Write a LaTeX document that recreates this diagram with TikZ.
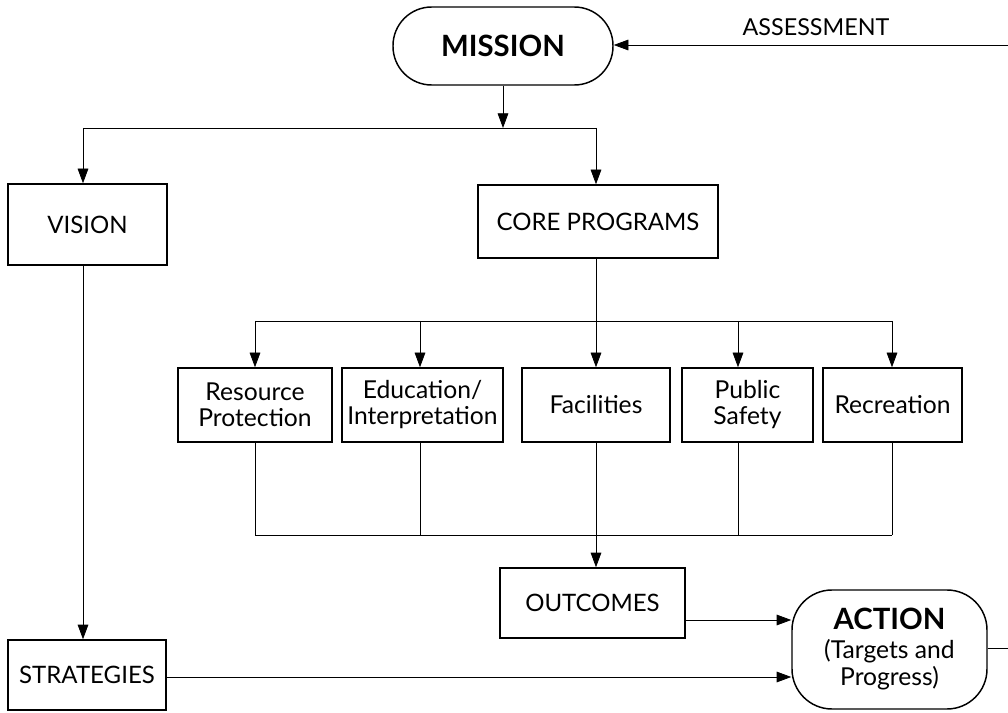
\documentclass[tikz,border=0pt]{standalone}
\usepackage{fontspec}
\setmainfont{Lato}
\usetikzlibrary{arrows.meta,calc}
\begin{document}
\begin{tikzpicture}[x=0.75pt,y=-0.75pt,
  box/.style={draw,line width=1.1pt,align=center,inner sep=0pt,font=\fontsize{18}{21}\selectfont},
  prog/.style={box,minimum height=55.5pt,font=\fontsize{18.5}{19.5}\selectfont},
  pill/.style={box,rounded corners=29pt},
  conn/.style={line width=0.6pt},
  arr/.style={conn,-{Triangle[length=11pt,width=8pt]}},
  lbl/.style={inner sep=0pt,font=\fontsize{17.5}{20}\selectfont}
]
\useasboundingbox (0,0) rectangle (1008,713);

% nodes
\node[pill,minimum width=165pt,minimum height=58.5pt,font=\bfseries\fontsize{22}{24}\selectfont] (mission) at (503,46) {MISSION};
\node[box,minimum width=119.25pt,minimum height=60.75pt] (vision) at (87.5,224.5) {VISION};
\node[box,minimum width=180pt,minimum height=54.75pt] (core) at (598,221.5) {CORE PROGRAMS};
\node[prog,minimum width=115.5pt] (res) at (255,405) {Resource\\Protection};
\node[prog,minimum width=120.75pt] (edu) at (422.5,405) {Education/\\Interpretation};
\node[prog,minimum width=111pt] (fac) at (596,405) {Facilities};
\node[prog,minimum width=98.25pt] (pub) at (747.5,405) {Public\\Safety};
\node[prog,minimum width=104.25pt] (rec) at (892.5,405) {Recreation};
\node[box,minimum width=138.75pt,minimum height=52.5pt] (outcomes) at (592.5,603) {OUTCOMES};
\node[box,minimum width=118.5pt,minimum height=52.5pt] (strategies) at (87,675) {STRATEGIES};
\node[pill,rounded corners=30pt,minimum width=146.25pt,minimum height=89.25pt,font=\fontsize{18.5}{20.5}\selectfont] (action) at (889.5,649.5)
  {{\bfseries\fontsize{22}{23}\selectfont ACTION}\\[1pt](Targets and\\Progress)};
\node[lbl] (assess) at (816,27) {ASSESSMENT};

% coordinates
\coordinate (e2) at (1008,45);
\coordinate (e1) at (1008,648);
\coordinate (j1) at (503,128);
\coordinate (jl) at (83,128);
\coordinate (jr) at (596,128);
\coordinate (t0) at (596,321);
\coordinate (tl) at (255,321);
\coordinate (tr) at (892,321);
\coordinate (b0) at (596,535);
\coordinate (bl) at (255,535);
\coordinate (br) at (892,535);

% assessment loop
\draw[arr] (e2) -- (mission.east |- e2);
\draw[conn] (action.east |- e1) -- (e1);

% mission to vision/core
\draw[arr] (mission.south) -- (j1);
\draw[conn] (jl) -- (jr);
\draw[arr] (jl) -- (jl |- vision.north);
\draw[arr] (jr) -- (jr |- core.north);

% vision to strategies
\draw[arr] (jl |- vision.south) -- (jl |- strategies.north);

% core to programs
\draw[conn] (t0 |- core.south) -- (t0);
\draw[conn] (tl) -- (tr);
\draw[arr] (tl) -- (tl |- res.north);
\draw[arr] (420,321) -- (420,0 |- edu.north);
\draw[arr] (t0) -- (t0 |- fac.north);
\draw[arr] (738,321) -- (738,0 |- pub.north);
\draw[arr] (tr) -- (tr |- rec.north);

% programs to outcomes
\draw[conn] (bl |- res.south) -- (bl);
\draw[conn] (420,0 |- edu.south) -- (420,535);
\draw[conn] (b0 |- fac.south) -- (b0);
\draw[conn] (738,0 |- pub.south) -- (738,535);
\draw[conn] (br |- rec.south) -- (br);
\draw[conn] (bl) -- (br);
\draw[arr] (b0) -- (b0 |- outcomes.north);

% to action
\draw[arr] (outcomes.east |- 0,620) -- (action.west |- 0,620);
\draw[arr] (strategies.east |- 0,677) -- (action.west |- 0,677);
\end{tikzpicture}
\end{document}
